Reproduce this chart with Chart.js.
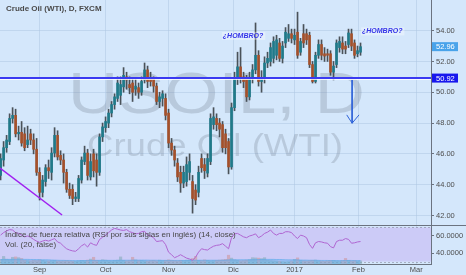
<!DOCTYPE html>
<html>
<head>
<meta charset="utf-8">
<script src="https://cdn.jsdelivr.net/npm/chart.js@4.4.1/dist/chart.umd.min.js"></script>
<style>
body{margin:0;background:#d4e7fb;width:466px;height:275px;overflow:hidden;position:relative}
#c1{position:absolute;left:0;top:0}
#c2{position:absolute;left:0;top:225px}
</style>
</head>
<body>
<canvas id="c1" width="466" height="225"></canvas>
<canvas id="c2" width="466" height="50"></canvas>
<script>
// daily candles, Aug 2016 -> Feb 2017 (USOIL, FXCM)
const opens = [
44.6,45.6,46.4,46.8,48.3,48.5,47.3,47.4,47.3,46.6,
47.3,46.9,46.3,44.8,43.5,44.2,45.1,44.8,46.05,47.2,
45.9,45.6,44.8,43.7,43.7,43.1,43.1,44.3,45.5,46.05,
44.5,46.0,45.6,44.8,47.1,47.7,48.0,48.65,49.2,49.6,
49.8,50.35,51.0,50.5,50.6,50.2,50.3,50.0,50.8,51.45,
50.9,50.9,50.4,49.4,49.6,49.6,48.65,46.7,46.25,45.4,
44.8,44.1,44.2,44.8,44.2,43.65,43.5,45.7,45.3,44.75,
45.5,47.9,48.3,48.0,47.9,47.3,46.8,45.15,49.0,50.9,
51.65,51.0,50.9,49.7,50.9,51.45,52.4,50.7,50.9,51.9,
52.0,52.2,52.4,53.2,52.2,53.2,53.5,53.8,53.4,53.9,
52.6,53.8,53.8,53.7,51.8,50.7,52.4,53.1,52.5,52.5,
52.5,51.3,51.8,52.9,53.2,53.0,53.1,53.8,53.2,52.5,
52.6];
const highs = [
46.0,46.8,47.2,48.6,49.0,48.9,47.8,48.1,47.7,47.8,
47.6,47.3,47.0,45.1,44.6,45.3,45.6,46.4,47.7,47.5,
46.2,46.0,45.0,44.1,44.0,43.5,44.6,45.8,46.5,46.3,
46.0,46.3,46.0,47.3,48.0,48.4,48.9,49.4,49.9,51.0,
51.0,51.6,51.3,51.0,50.9,50.9,50.6,51.0,51.9,51.7,
51.3,51.0,50.6,50.0,50.1,49.9,48.9,47.0,46.5,45.7,
45.2,45.2,45.8,46.0,44.6,44.0,45.2,46.0,45.7,46.0,
48.6,49.0,48.6,48.3,48.1,47.6,47.0,49.3,51.3,52.6,
52.9,51.3,51.1,51.3,51.8,54.5,52.7,51.4,52.3,52.6,
53.2,53.6,53.7,53.5,53.3,54.2,54.4,54.1,54.1,55.2,
53.5,54.4,54.1,53.9,52.0,52.6,53.4,53.4,52.9,52.8,
52.7,52.0,53.4,53.6,53.6,53.3,54.1,54.1,53.4,53.0,
53.2];
const lows = [
44.3,45.2,46.1,46.6,48.0,47.1,46.9,46.5,46.2,46.4,
46.6,46.0,44.6,43.0,43.2,43.9,44.4,44.3,45.8,45.6,
45.3,44.1,43.5,43.1,42.7,42.9,42.9,44.1,45.3,44.3,
44.3,44.5,43.9,44.6,46.8,47.4,47.7,48.4,48.9,49.4,
49.2,50.0,50.2,49.9,49.4,49.8,49.6,49.8,50.6,50.3,
50.4,50.0,49.2,49.0,49.1,48.2,46.4,45.9,45.2,44.2,
43.5,43.8,43.9,44.3,42.15,42.7,43.2,44.8,44.4,44.5,
45.3,47.6,47.5,47.1,46.1,46.0,44.7,45.0,48.8,50.5,
50.6,50.3,49.4,49.5,50.6,51.2,50.4,50.0,50.6,51.6,
51.7,51.9,52.1,52.0,51.9,52.9,53.3,53.2,53.1,52.2,
52.4,52.9,53.1,51.6,50.6,50.6,52.2,52.1,52.0,52.0,
51.1,50.8,51.6,52.6,52.5,52.5,52.9,52.7,52.2,52.3,
52.4];
const closes = [
45.7,46.4,46.9,48.3,48.5,47.3,47.4,46.7,46.4,46.9,
46.9,46.3,44.8,43.5,44.3,45.1,44.9,46.05,47.2,45.8,
45.6,44.8,43.7,43.3,43.1,43.2,44.4,45.6,46.05,44.6,
45.5,44.9,44.8,47.1,47.75,48.1,48.65,49.2,49.7,50.6,
50.5,51.1,50.8,50.3,50.0,50.4,50.0,50.7,51.45,50.7,
50.7,50.4,49.4,49.7,49.9,48.5,46.7,46.25,45.6,44.5,
44.1,44.8,45.3,45.5,43.1,43.0,44.8,45.1,44.9,45.7,
48.3,48.4,47.9,47.6,46.4,46.4,45.15,49.0,50.9,51.65,
50.9,50.7,49.7,50.9,51.45,52.4,50.7,50.9,51.9,52.2,
52.9,53.3,53.4,52.2,53.0,53.9,53.8,53.5,53.7,52.4,
53.3,53.2,53.4,51.8,50.7,52.4,53.1,52.4,52.35,52.4,
51.3,51.7,53.2,53.3,52.8,52.8,53.85,53.0,52.4,52.7,
52.96];
const rsi = [
61,64,66,67.5,67,64,63,61,59,60,
58.5,56,54,52.5,54,55,54,55.5,57,53,
51.5,48,45,43.5,42.5,42,45,48.5,50.5,47,
52,50,49,56,58.5,61,64,67,69,68,
67,66.5,67.5,65,64,62.5,63,65,65.5,61,
60,58,53.5,54,54.5,50,41,38,34.5,36,
38,36,34,33,31.5,35,41,45,44,43.5,
46,48,49,49.5,51,48,45,58,62.5,63,
61,59,58,60,61,62.5,58,60,63,64.5,
67,63,61,63,63,65,65,64,60,57,
61,60,58,50,45.5,52,53.5,53,52,51.5,
47.5,46,53.5,55,55,57,56,51.5,52,53,
53.5];
const volume = [
38,62,40,35,55,58,52,45,30,28,
26,30,28,34,30,26,25,28,30,26,
24,26,28,25,24,22,26,30,28,32,
40,55,30,28,35,32,28,26,30,32,
58,30,26,28,55,34,28,30,26,24,
28,30,26,32,28,30,34,30,28,26,
30,28,32,34,45,62,30,28,34,30,
26,28,30,32,34,38,72,48,34,30,
26,28,32,36,52,50,48,44,52,30,
28,26,24,22,20,18,20,24,38,50,
30,26,24,28,30,32,26,24,22,26,
28,30,26,24,28,46,30,26,28,24,
26];
const volMA = [
36,37,37,38,38,39,39,39,38,38,
37,37,36,36,35,35,34,33,32,31,
30,30,29,29,28,28,28,28,28,29,
29,30,30,30,30,30,30,30,30,30,
31,31,31,31,32,32,32,32,32,32,
31,31,31,30,30,30,30,30,29,29,
29,29,29,30,30,31,31,31,31,31,
31,31,31,31,32,32,34,35,35,35,
35,35,35,35,36,36,37,37,38,38,
38,38,37,37,36,35,34,34,34,34,
33,32,32,31,31,31,30,29,29,29,
28,28,28,28,28,29,29,29,28,28,
28];
const monthPos = [13, 35, 56, 77.6, 98, 119.3, 138.6];
const monthLbl = ['Sep', 'Oct', 'Nov', 'Dic', '2017', 'Feb', 'Mar'];
const priceTicks = [42, 44, 46, 48, 50, 52, 54];
const rsiTicks = [40, 60];
const trendX = [-0.2, 20.5], trendY = [45.08, 42.03];
const arrowX = [117.2, 117.2], arrowY = [50.8, 47.99];
const headX = [115.4, 117.2, 119.5], headY = [48.53, 47.99, 48.53];
const levelPrice = 50.92;
const lastPrice = 52.96;
const notes = [{x: 74.1, y: 53.66, t: '¿HOMBRO?'}, {x: 120.5, y: 53.95, t: '¿HOMBRO?'}];

const UP = '#1f7a8a', DOWN = '#a5502a', WICK = '#4a5259';
const AXIS = '#6b7380', GRID = 'rgba(175,200,228,0.55)', TXT = '#4d4d4d';
const XMIN = -0.2, XMAX = 143.5;
const idx = closes.map((c, i) => i);
Chart.defaults.font.family = '"Liberation Sans", Arial, sans-serif';
Chart.defaults.animation = false;

// no label padding: plot fills the whole pane
function noPad(s) { s.paddingTop = 0; s.paddingBottom = 0; s.paddingLeft = 0; s.paddingRight = 0; }

const overlay1 = {
  id: 'overlay1',
  beforeDatasetsDraw(chart) {
    const ctx = chart.ctx, a = chart.chartArea;
    ctx.save();
    ctx.beginPath(); ctx.rect(a.left, a.top, a.right - a.left, a.bottom - a.top); ctx.clip();
    ctx.fillStyle = 'rgba(120,132,150,0.3)';
    ctx.textBaseline = 'alphabetic';
    ctx.font = '57px "Liberation Sans", Arial, sans-serif';
    let w = ctx.measureText('USOIL, D').width;
    ctx.save(); ctx.translate(68, 113); ctx.scale(297 / w, 1); ctx.fillText('USOIL, D', 0, 0); ctx.restore();
    ctx.font = '31px "Liberation Sans", Arial, sans-serif';
    w = ctx.measureText('Crude Oil (WTI)').width;
    ctx.save(); ctx.translate(87, 156); ctx.scale(256 / w, 1); ctx.fillText('Crude Oil (WTI)', 0, 0); ctx.restore();
    ctx.restore();
  },
  afterDatasetsDraw(chart) {
    const ctx = chart.ctx, a = chart.chartArea, xs = chart.scales.x, ys = chart.scales.y;
    ctx.save();
    const ly = Math.round(ys.getPixelForValue(levelPrice));
    ctx.fillStyle = '#3a3af2';
    ctx.fillRect(a.left, ly - 1, a.right - a.left, 2);
    ctx.fillStyle = 'rgba(255,255,255,0.8)';
    ctx.fillRect(a.left, ly + 1, a.right - a.left, 1);
    ctx.font = 'italic bold 7px "Liberation Sans", Arial, sans-serif';
    ctx.textBaseline = 'middle';
    notes.forEach(n => {
      const px = xs.getPixelForValue(n.x), py = ys.getPixelForValue(n.y);
      const w = ctx.measureText(n.t).width;
      ctx.fillStyle = 'rgba(255,255,255,0.35)';
      ctx.fillRect(px - 1, py - 4, Math.min(w + 3, a.right - px + 1), 8);
      ctx.fillStyle = '#3434e8';
      ctx.fillText(n.t, px, py);
    });
    ctx.restore();
  },
  afterDraw(chart) {
    const ctx = chart.ctx, a = chart.chartArea, ys = chart.scales.y;
    ctx.save();
    ctx.font = '7.5px "Liberation Sans", Arial, sans-serif';
    ctx.textBaseline = 'middle';
    [[lastPrice, '#49a3ea'], [levelPrice, '#1717ee']].forEach(([v, bg]) => {
      const py = ys.getPixelForValue(v);
      ctx.fillStyle = bg;
      ctx.fillRect(a.right + 1, py - 4.5, 26, 9);
      ctx.fillStyle = '#ffffff';
      ctx.fillText(v.toFixed(2), a.right + 5, py + 0.5);
    });
    ctx.fillStyle = '#4a4a4a';
    ctx.font = 'bold 8px "Liberation Sans", Arial, sans-serif';
    ctx.fillText('Crude Oil (WTI), D, FXCM', 6, 9);
    ctx.restore();
  }
};

new Chart(document.getElementById('c1'), {
  type: 'bar',
  data: {
    datasets: [
      { label: 'wick', data: idx.map(i => ({x: i, y: [lows[i], highs[i]]})), backgroundColor: WICK, barThickness: 1, grouped: false, order: 3 },
      { label: 'body', data: idx.map(i => ({x: i, y: [opens[i], closes[i]]})), backgroundColor: idx.map(i => closes[i] >= opens[i] ? UP : DOWN), borderWidth: 0, barThickness: 2, grouped: false, order: 2 },
      { type: 'line', label: 'trend', data: trendX.map((x, i) => ({x, y: trendY[i]})), borderColor: '#a020f0', borderWidth: 1.5, pointRadius: 0, order: 1 },
      { type: 'line', label: 'arrow', data: arrowX.map((x, i) => ({x, y: arrowY[i]})), borderColor: '#2f63d8', borderWidth: 1, pointRadius: 0, order: 0 },
      { type: 'line', label: 'head', data: headX.map((x, i) => ({x, y: headY[i]})), borderColor: '#2f63d8', borderWidth: 1, pointRadius: 0, order: 0 }
    ]
  },
  options: {
    responsive: false,
    devicePixelRatio: 1,
    layout: { padding: 0 },
    plugins: { legend: { display: false }, tooltip: { enabled: false } },
    scales: {
      x: {
        type: 'linear', min: XMIN, max: XMAX, offset: false,
        afterFit(s) { s.height = 0; noPad(s); },
        afterBuildTicks(s) { s.ticks = monthPos.map(v => ({value: v})); },
        ticks: { display: false },
        grid: { color: GRID, drawTicks: false, offset: false },
        border: { display: false }
      },
      y: {
        position: 'right', min: 41.38, max: 55.99,
        afterFit(s) { s.width = 35; noPad(s); },
        afterBuildTicks(s) { s.ticks = priceTicks.map(v => ({value: v})); },
        ticks: { color: TXT, font: { size: 7.5 }, padding: 2, callback: v => v.toFixed(2) },
        grid: { color: GRID, tickLength: 3, tickColor: AXIS },
        border: { color: AXIS }
      }
    }
  },
  plugins: [overlay1]
});

const overlay2 = {
  id: 'overlay2',
  beforeDatasetsDraw(chart) {
    const ctx = chart.ctx, a = chart.chartArea, ys = chart.scales.y;
    const t = ys.getPixelForValue(70), b = ys.getPixelForValue(30);
    ctx.save();
    ctx.fillStyle = '#cccbf7';
    ctx.fillRect(a.left, t, a.right - a.left, b - t);
    ctx.strokeStyle = 'rgba(120,120,140,0.5)';
    ctx.setLineDash([2, 2]);
    ctx.lineWidth = 1;
    ctx.beginPath();
    ctx.moveTo(a.left, Math.round(t) + 0.5); ctx.lineTo(a.right, Math.round(t) + 0.5);
    ctx.moveTo(a.left, Math.round(b) + 0.5); ctx.lineTo(a.right, Math.round(b) + 0.5);
    ctx.stroke();
    ctx.restore();
  },
  afterDraw(chart) {
    const ctx = chart.ctx;
    ctx.save();
    ctx.strokeStyle = AXIS;
    ctx.lineWidth = 1;
    ctx.beginPath(); ctx.moveTo(0, 0.5); ctx.lineTo(466, 0.5); ctx.stroke();
    ctx.fillStyle = '#474747';
    ctx.font = '8px "Liberation Sans", Arial, sans-serif';
    ctx.textBaseline = 'middle';
    ctx.fillText('Índice de fuerza relativa (RSI por sus siglas en inglés) (14, close)', 5, 10);
    ctx.fillText('Vol. (20, false)', 5, 20);
    ctx.restore();
  }
};

new Chart(document.getElementById('c2'), {
  type: 'bar',
  data: {
    datasets: [
      { type: 'line', label: 'RSI', data: idx.map(i => ({x: i, y: rsi[i]})), borderColor: '#b066d2', borderWidth: 1, pointRadius: 0, yAxisID: 'y', order: 0 },
      { type: 'line', label: 'Vol MA', data: idx.map(i => ({x: i, y: volMA[i]})), borderColor: 'rgba(90,170,235,0.6)', backgroundColor: 'rgba(90,170,235,0.45)', fill: 'origin', borderWidth: 1, pointRadius: 0, yAxisID: 'yv', order: 1 },
      { label: 'Vol', data: idx.map(i => ({x: i, y: volume[i]})), backgroundColor: idx.map(i => closes[i] >= opens[i] ? 'rgba(120,165,175,0.5)' : 'rgba(205,140,140,0.5)'), barThickness: 2.5, grouped: false, yAxisID: 'yv', order: 2 }
    ]
  },
  options: {
    responsive: false,
    devicePixelRatio: 1,
    layout: { padding: 0 },
    plugins: { legend: { display: false }, tooltip: { enabled: false } },
    scales: {
      x: {
        type: 'linear', min: XMIN, max: XMAX, offset: false,
        afterFit(s) { s.height = 11; noPad(s); },
        afterBuildTicks(s) { s.ticks = monthPos.map(v => ({value: v})); },
        ticks: { color: TXT, font: { size: 7.5 }, padding: 1, maxRotation: 0, autoSkip: false, callback: (v, i) => monthLbl[i] },
        grid: { color: GRID, drawTicks: false, offset: false },
        border: { color: AXIS }
      },
      y: {
        position: 'right', min: 27.1, max: 72.9,
        afterFit(s) { s.width = 35; noPad(s); },
        afterBuildTicks(s) { s.ticks = rsiTicks.map(v => ({value: v})); },
        ticks: { color: TXT, font: { size: 7.5 }, padding: 2, callback: v => v.toFixed(4) },
        grid: { drawOnChartArea: false, tickLength: 3, color: AXIS },
        border: { color: AXIS }
      },
      yv: { display: false, min: 0, max: 320, afterFit: noPad }
    }
  },
  plugins: [overlay2]
});
</script>
</body>
</html>
